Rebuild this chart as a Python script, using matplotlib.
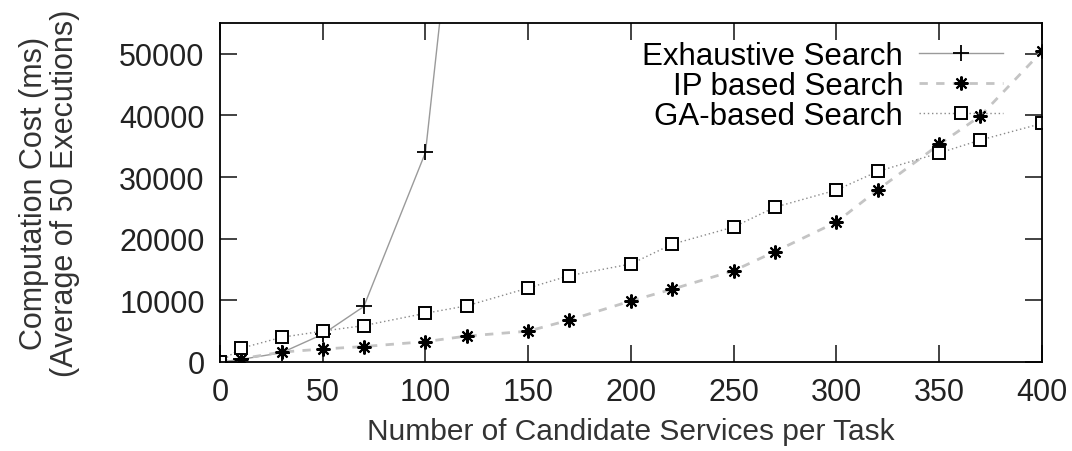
import matplotlib
matplotlib.use('Agg')
import matplotlib.pyplot as plt

plt.rcParams['font.family'] = ['Liberation Sans', 'DejaVu Sans']

# candidate services per task
x_exh = [0, 10, 30, 50, 70, 100, 120]
y_exh = [0, 400, 1500, 4500, 9000, 34000, 95000]

x_all = [0, 10, 30, 50, 70, 100, 120, 150, 170, 200, 220, 250, 270,
         300, 320, 350, 370, 400]
y_ip = [0, 500, 1600, 2100, 2500, 3300, 4200, 5000, 6800, 9900, 11800,
        14800, 17900, 22700, 27900, 35300, 39900, 50400]
y_ga = [0, 2200, 4000, 5000, 5900, 7900, 9100, 12000, 14000, 15900, 19100,
        21900, 25100, 27900, 30900, 33900, 36000, 38700]

xticks = [0, 50, 100, 150, 200, 250, 300, 350, 400]
yticks = [0, 10000, 20000, 30000, 40000, 50000]

fig = plt.figure(figsize=(10.72, 4.52), dpi=100)
ax = fig.add_axes([0.2052, 0.197, 0.7668, 0.75])

ax.plot(x_exh, y_exh, color='#9a9a9a', lw=1.0, ls='-',
        marker='+', ms=11, mec='black', mew=1.3, label='Exhaustive Search')
ax.plot(x_all, y_ip, color='#c4c4c4', lw=2.0, ls=(0, (3, 3)),
        marker=(8, 2, 0), ms=10, mec='black', mew=1.5,
        label='IP based Search')
ax.plot(x_all, y_ga, color='#8a8a8a', lw=1.0, ls=(0, (1, 2)),
        marker='s', ms=8, mfc='white', mec='black', mew=1.4,
        label='GA-based Search')

ax.set_xlim(0, 400)
ax.set_ylim(0, 55000)
ax.set_xticks(xticks)
ax.set_yticks(yticks)
ax.tick_params(direction='in', length=12, width=1.2, top=True, right=True,
               labelsize=22, pad=11, colors='#222222')
for s in ax.spines.values():
    s.set_linewidth(1.3)

ax.set_xlabel('Number of Candidate Services per Task', fontsize=21.5,
              color='#333333', labelpad=7)
ax.set_ylabel('Computation Cost (ms)\n(Average of 50 Executions)',
              fontsize=22, color='#333333', labelpad=28, linespacing=1.05)

ax.legend(loc='upper right', frameon=False, markerfirst=False, fontsize=22.5,
          handlelength=2.7, handletextpad=0.5, labelspacing=0.0,
          borderaxespad=0.0, bbox_to_anchor=(0.968, 0.985))

fig.savefig('out.png', dpi=100)
